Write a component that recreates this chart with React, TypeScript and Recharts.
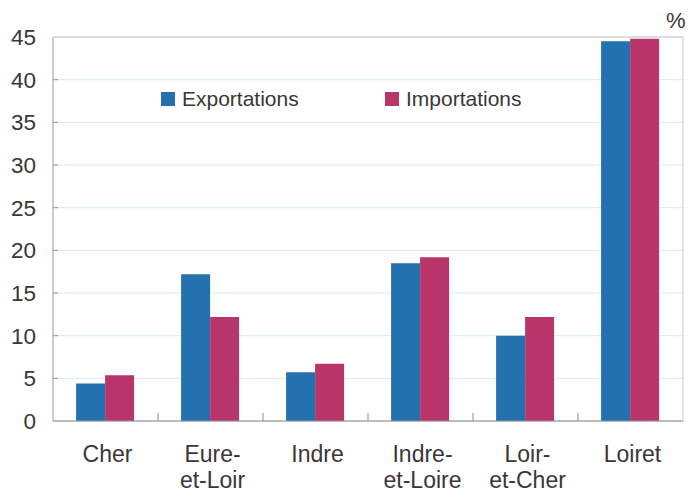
import * as React from "react";
import {
  BarChart,
  Bar,
  XAxis,
  YAxis,
  CartesianGrid,
  ReferenceArea,
} from "recharts";

// Départements of Centre-Val de Loire, label lines split by "\n"
const departements = [
  "Cher",
  "Eure-\net-Loir",
  "Indre",
  "Indre-\net-Loire",
  "Loir-\net-Cher",
  "Loiret",
];
const exportations = [4.4, 17.2, 5.7, 18.5, 10.0, 44.5];
const importations = [5.35, 12.2, 6.7, 19.2, 12.2, 44.8];
const yTicks = [0, 5, 10, 15, 20, 25, 30, 35, 40, 45];
const seriesNames = ["Exportations", "Importations"];

const BLUE = "#2471b0";
const PINK = "#b8356a";
const TEXT = "#3a3636";
const FONT = "'Liberation Sans', Arial, sans-serif";
const seriesColors = [BLUE, PINK];

const data = departements.map((name, i) => ({
  name,
  exp: exportations[i],
  imp: importations[i],
}));

const XTick = (props: any) => {
  const { x, y, payload, index } = props;
  const lines = String(payload.value).split("\n");
  const half = payload.offset ?? 52.5;
  return (
    <g>
      {index > 0 && (
        <line x1={x - half} x2={x - half} y1={y} y2={y - 8} stroke="#8a8a8a" strokeWidth={1} />
      )}
      <text x={x + 2} y={y} textAnchor="middle" fill={TEXT} fontSize={23} fontFamily={FONT}>
        {lines.map((l, i) => (
          <tspan key={i} x={x + 2} dy={i === 0 ? 41 : 26}>
            {l}
          </tspan>
        ))}
      </text>
    </g>
  );
};

const YTick = (props: any) => {
  const { x, y, payload } = props;
  return (
    <g>
      {payload.value > 0 && payload.value < 45 && (
        <line x1={x} x2={x + 5} y1={y} y2={y} stroke="#9a9a9a" strokeWidth={1} />
      )}
      <text x={x - 17} y={y} dy={8} textAnchor="end" fill={TEXT} fontSize={22.5} fontFamily={FONT}>
        {payload.value}
      </text>
    </g>
  );
};

export default function App() {
  return (
    <div style={{ position: "absolute", left: 0, top: 0, width: 699, height: 494, background: "#fff" }}>
      <BarChart
        width={699}
        height={494}
        data={data}
        margin={{ top: 37, right: 16, left: 0, bottom: 0 }}
        barCategoryGap="22%"
        barGap={0}
      >
        <CartesianGrid vertical={false} stroke="#d4ebf2" strokeWidth={1} />
        <ReferenceArea y1={0} y2={45} fill="none" stroke="#c9c9c9" strokeWidth={1} ifOverflow="visible" />
        <XAxis
          dataKey="name"
          axisLine={{ stroke: "#9a9a9a" }}
          tickLine={false}
          tickSize={0}
          tickMargin={0}
          tick={<XTick />}
          interval={0}
          height={73}
        />
        <YAxis
          domain={[0, 45]}
          ticks={yTicks}
          width={53}
          axisLine={{ stroke: "#b5b5b5" }}
          tickLine={false}
          tickSize={0}
          tickMargin={0}
          tick={<YTick />}
          interval={0}
        />
        <Bar dataKey="exp" name={seriesNames[0]} fill={BLUE} isAnimationActive={false} />
        <Bar dataKey="imp" name={seriesNames[1]} fill={PINK} isAnimationActive={false} />
      </BarChart>
      <div
        style={{
          position: "absolute",
          left: 161,
          top: 87,
          display: "flex",
          fontFamily: FONT,
          fontSize: 21,
          color: TEXT,
        }}
      >
        {seriesNames.map((n, i) => (
          <div key={n} style={{ display: "flex", alignItems: "center", width: 224 }}>
            <span style={{ width: 14, height: 14, background: seriesColors[i], marginRight: 7 }} />
            <span>{n}</span>
          </div>
        ))}
      </div>
      <div
        style={{
          position: "absolute",
          left: 666,
          top: 8,
          fontFamily: FONT,
          fontSize: 22,
          color: TEXT,
        }}
      >
        %
      </div>
    </div>
  );
}
